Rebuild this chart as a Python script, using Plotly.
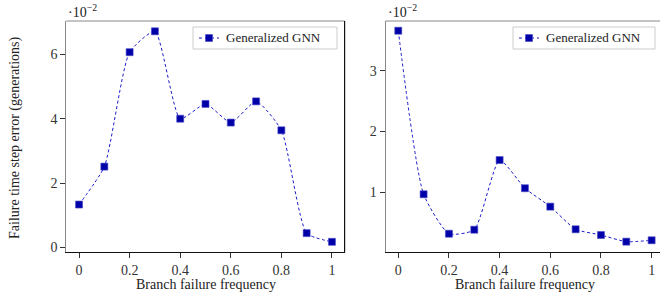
import plotly.graph_objects as go

freq = [0, 0.1, 0.2, 0.3, 0.4, 0.5, 0.6, 0.7, 0.8, 0.9, 1.0]
err_left = [1.33, 2.51, 6.07, 6.72, 4.00, 4.46, 3.88, 4.54, 3.64, 0.44, 0.17]
err_right = [3.66, 0.967, 0.317, 0.383, 1.53, 1.066, 0.763, 0.39, 0.296, 0.186, 0.209]
series_name = "Generalized GNN"
x_title = "Branch failure frequency"
y_title = "Failure time step error (generations)"
x_ticks = [0, 0.2, 0.4, 0.6, 0.8, 1]
x_ticklabels = ["0", "0.2", "0.4", "0.6", "0.8", "1"]
y_ticks_left = [0, 2, 4, 6]
y_ticks_right = [1, 2, 3]

W, H = 660, 295
FONT = "Liberation Serif"
TXT = "#222"
LINE_C = "#1a1acc"
MARK_C = "#0000a8"

fig = go.Figure()

def add(data, xa, ya):
    fig.add_trace(go.Scatter(
        x=freq, y=data, xaxis=xa, yaxis=ya, name=series_name,
        mode="lines+markers", showlegend=False, cliponaxis=False,
        line=dict(color=LINE_C, width=1, dash="3px,2.5px", shape="spline", smoothing=0.55),
        marker=dict(symbol="square", size=7, color=MARK_C, line=dict(color="#4a4ac8", width=0.6)),
    ))

add(err_left, "x", "y")
add(err_right, "x2", "y2")

ytop = 1 - 21 / H
ybot = 1 - 252.3 / H

axis_common = dict(
    showgrid=False, zeroline=False, ticks="outside", ticklen=5, tickwidth=1,
    tickcolor="#333", tickfont=dict(family=FONT, size=14, color="#333"),
    showline=True, linewidth=1.2, automargin=False,
)

fig.update_layout(
    width=W, height=H, margin=dict(l=0, r=0, t=0, b=0),
    paper_bgcolor="white", plot_bgcolor="white",
    font=dict(family=FONT, size=13, color=TXT),
    showlegend=False,
    xaxis=dict(domain=[66.4 / W, 344.6 / W], range=[-0.05, 1.05], tickvals=x_ticks,
               ticktext=x_ticklabels, linecolor="#111", anchor="y", **axis_common),
    yaxis=dict(domain=[ybot, ytop], range=[-0.156, 7.04], tickvals=y_ticks_left,
               linecolor="#888", anchor="x", **axis_common),
    xaxis2=dict(domain=[385.6 / W, 1.0], range=[-0.05, 1.033], tickvals=x_ticks,
                ticktext=x_ticklabels, linecolor="#111", anchor="y2", **axis_common),
    yaxis2=dict(domain=[ybot, ytop], range=[0.011, 3.82], tickvals=y_ticks_right,
                linecolor="#888", anchor="x2", **axis_common),
)

# top / right frame lines
fig.add_shape(type="line", xref="x domain", yref="y domain", x0=0, x1=1, y0=1, y1=1,
              line=dict(color="#888", width=1.2))
fig.add_shape(type="line", xref="x domain", yref="y domain", x0=1, x1=1, y0=0, y1=1,
              line=dict(color="#111", width=1.2))
fig.add_shape(type="line", xref="x2 domain", yref="y2 domain", x0=0, x1=1, y0=1, y1=1,
              line=dict(color="#888", width=1.2))

# axis titles
for cx in [206, 525]:
    fig.add_annotation(x=cx / W, y=1 - 284.5 / H, xref="paper", yref="paper", text=x_title,
                       showarrow=False, xanchor="center", yanchor="middle",
                       font=dict(family=FONT, size=14, color=TXT))
fig.add_annotation(x=15 / W, y=1 - 138 / H, xref="paper", yref="paper", text=y_title,
                   showarrow=False, textangle=-90, xanchor="center", yanchor="middle",
                   font=dict(family=FONT, size=14, color=TXT))

# exponent labels
for xpx in [66, 386]:
    fig.add_annotation(x=xpx / W, y=1 - 11 / H, xref="paper", yref="paper",
                       text="·10<sup>−2</sup>", showarrow=False, xanchor="left", yanchor="middle",
                       font=dict(family=FONT, size=14, color=TXT))

# legend boxes
for x0px, x1px in [(193, 337), (513, 655)]:
    fig.add_shape(type="rect", xref="paper", yref="paper",
                  x0=x0px / W, x1=x1px / W, y0=1 - 49 / H, y1=1 - 27 / H,
                  line=dict(color="#cccccc", width=1), fillcolor="white", layer="above")
    yc = 1 - 38 / H
    fig.add_shape(type="line", xref="paper", yref="paper",
                  x0=(x0px + 6) / W, x1=(x0px + 26) / W, y0=yc, y1=yc,
                  line=dict(color=LINE_C, width=1, dash="3px,3px"), layer="above")
    fig.add_shape(type="rect", xref="paper", yref="paper",
                  x0=(x0px + 12.5) / W, x1=(x0px + 19.5) / W, y0=yc - 3.5 / H, y1=yc + 3.5 / H,
                  line=dict(color="#4a4ac8", width=0.6), fillcolor=MARK_C, layer="above")
    fig.add_annotation(x=(x0px + 31) / W, y=yc, xref="paper", yref="paper",
                       text=series_name, showarrow=False, xanchor="left", yanchor="middle",
                       font=dict(family=FONT, size=13, color=TXT))

fig.write_html("out.html", config={"displayModeBar": False},
               post_script="document.body.style.margin='0';document.body.style.overflow='hidden';")
